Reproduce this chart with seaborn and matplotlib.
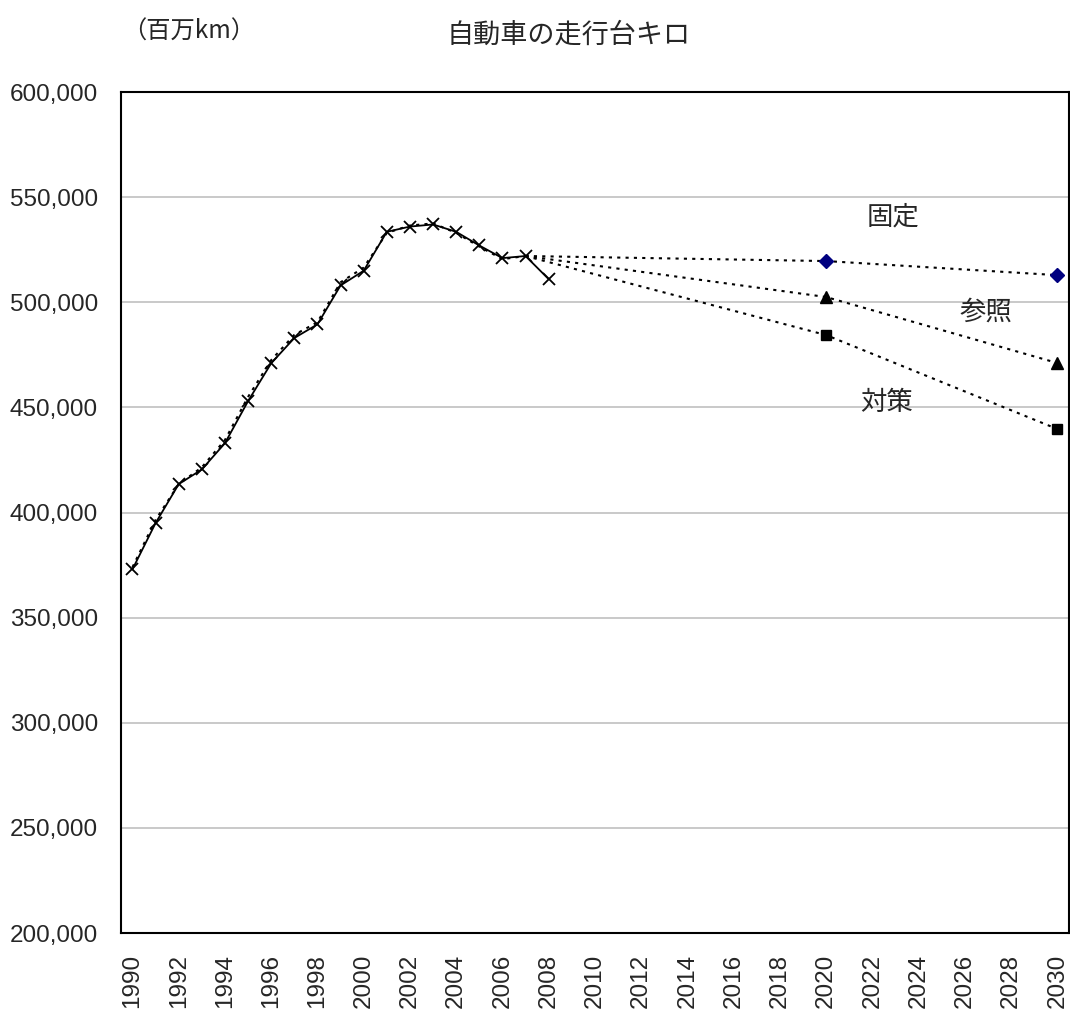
import numpy as np
import pandas as pd
import matplotlib
matplotlib.use("Agg")
import matplotlib.pyplot as plt
import seaborn as sns
from matplotlib.ticker import FuncFormatter, FixedLocator

# 実績 (1990-2008)
years_actual = list(range(1990, 2009))
actual = [373000, 395000, 413500, 420500, 433000, 453000, 471000, 483000, 489500,
          508000, 515000, 533500, 536000, 537000, 533500, 527000, 521000, 522000, 511000]

# 推計 (1990-2007)
years_model = list(range(1990, 2008))
model = [374000, 396500, 413500, 421500, 434500, 455000, 472500, 484500, 490500,
         509500, 516500, 533000, 536500, 537500, 533000, 526500, 520500, 522000]

# シナリオ
years_scen = [2007, 2020, 2030]
kotei = [522000, 519600, 512900]
sansho = [522000, 502500, 471100]
taisaku = [522000, 484400, 439700]

sns.set_style("white")
plt.rcParams['font.family'] = ['Liberation Sans', 'Noto Sans CJK JP']
jp = ['Noto Sans CJK JP', 'DejaVu Sans']

fig = plt.figure(figsize=(10.7, 10.1), dpi=100)
ax = fig.add_axes([0.113, 0.0762, 0.886, 0.8327])

dot = (0, (1.5, 2.5))
sns.lineplot(x=years_model, y=model, ax=ax, color='black', lw=1.5, linestyle=dot)
for vals, mk, col, ms in [(kotei, 'D', '#000080', 7), (sansho, '^', 'black', 8),
                          (taisaku, 's', 'black', 7)]:
    sns.lineplot(x=years_scen, y=vals, ax=ax, color='black', lw=1.5, linestyle=dot)
    ax.plot(years_scen[1:], vals[1:], linestyle='none', marker=mk, color=col,
            markersize=ms, zorder=4)
sns.lineplot(x=years_actual, y=actual, ax=ax, color='black', lw=1.3,
             marker='x', markersize=8, markeredgewidth=1.3, markeredgecolor='black')

ax.set_xlim(1989.5, 2030.5)
ax.set_ylim(200000, 600000)
ax.set_yticks(np.arange(200000, 600001, 50000))
ax.yaxis.set_major_formatter(FuncFormatter(lambda v, p: f"{int(v):,}"))
ax.grid(axis='y', color='#c0c0c0', lw=1.2)
ax.set_axisbelow(True)

ax.set_xticks(list(range(1990, 2031, 2)))
ax.set_xticklabels([str(y) for y in range(1990, 2031, 2)], rotation=90)
ax.xaxis.set_minor_locator(FixedLocator(np.arange(1989.5, 2031, 1)))
ax.tick_params(axis='x', which='major', length=0, pad=15, labelsize=17.5)
ax.tick_params(axis='x', which='minor', direction='in', length=5, width=1.3, color='black')
ax.tick_params(axis='y', which='major', direction='out', length=5, width=1.3,
               color='black', labelsize=17.5, pad=11.5)
for s in ax.spines.values():
    s.set_color('black')
    s.set_linewidth(1.5)

fig.text(0.531, 0.965, '自動車の走行台キロ', ha='center', va='center', fontsize=19.5, family=jp)
fig.text(0.176, 0.969, '（百万km）', ha='center', va='center', fontsize=17.5, family=jp)
ax.text(2022.9, 540500, '固定', ha='center', va='center', fontsize=19, family=jp)
ax.text(2026.9, 495300, '参照', ha='center', va='center', fontsize=19, family=jp)
ax.text(2022.6, 452500, '対策', ha='center', va='center', fontsize=19, family=jp)

ax.set_xlabel('')
ax.set_ylabel('')
fig.savefig('out.png', dpi=100)
